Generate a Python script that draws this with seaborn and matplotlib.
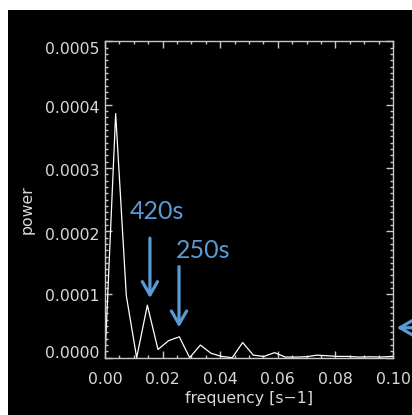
import matplotlib
matplotlib.use("Agg")
import matplotlib.pyplot as plt
import matplotlib.transforms as mtransforms
from matplotlib.patches import Rectangle
from matplotlib.ticker import MultipleLocator, FormatStrFormatter
import pandas as pd
import seaborn as sns

# ---- data ----
frequency = [0.0, 0.0037, 0.0074, 0.0110, 0.0147, 0.0184, 0.0221, 0.0258,
             0.0294, 0.0331, 0.0368, 0.0405, 0.0442, 0.0478, 0.0515, 0.0552,
             0.0589, 0.0626, 0.0662, 0.0699, 0.0736, 0.0773, 0.0810, 0.0846,
             0.0883, 0.0920, 0.0957, 0.0994, 0.1031]
power = [0.0, 0.000386, 0.000098, 0.0, 0.000083, 0.000013, 0.000027, 0.000033,
         0.0, 0.000020, 0.000007, 0.000002, 0.0, 0.000024, 0.000004, 0.000002,
         0.000008, 0.000001, 0.000001, 0.0000015, 0.000004, 0.000003, 0.000002,
         0.000002, 0.000001, 0.0000015, 0.000001, 0.000002, 0.000002]
x_ticks = [0.00, 0.02, 0.04, 0.06, 0.08, 0.10]
y_ticks = [0.0000, 0.0001, 0.0002, 0.0003, 0.0004, 0.0005]
annotations = ["420s", "250s"]
annot_freq = [0.0156, 0.0257]       # arrow x positions
annot_tip = [0.0000944, 0.000048]   # arrow tips (power)
annot_tail = [0.000189, 0.000144]   # arrow tails (power)
annot_text_x = [0.0181, 0.0341]
annot_text_y = [0.000231, 0.000170]

df = pd.DataFrame({"frequency": frequency, "power": power})

W, H = 412, 415
fig = plt.figure(figsize=(W / 100, H / 100), dpi=100, facecolor="black")
# white margins of the screenshot (left and top)
fig.patches.append(Rectangle((0, 0), 8 / W, 1, transform=fig.transFigure,
                             facecolor="white", edgecolor="none", zorder=-10))
fig.patches.append(Rectangle((0, 1 - 10 / H), 1, 10 / H, transform=fig.transFigure,
                             facecolor="white", edgecolor="none", zorder=-10))

left, right = 105 / W, 393 / W
top, bottom = 1 - 41.5 / H, 1 - 357.7 / H
ax = fig.add_axes([left, bottom, right - left, top - bottom])
ax.set_facecolor("black")

sns.lineplot(data=df, x="frequency", y="power", ax=ax, color="white",
             linewidth=0.9, clip_on=True)

ax.set_xlim(0, 0.1)
ax.set_ylim(0, 0.0005)

spine_col = "#c8c8c8"
text_col = "#d8d8d8"
for s in ax.spines.values():
    s.set_color(spine_col)
    s.set_linewidth(1.0)

ax.set_xticks(x_ticks)
ax.set_yticks(y_ticks)
ax.xaxis.set_major_formatter(FormatStrFormatter("%.2f"))
ax.yaxis.set_major_formatter(FormatStrFormatter("%.4f"))
ax.xaxis.set_minor_locator(MultipleLocator(0.005))
ax.yaxis.set_minor_locator(MultipleLocator(0.00001))
ax.tick_params(which="both", direction="in", top=True, right=True,
               color=spine_col, labelcolor=text_col, labelsize=11.3)
ax.tick_params(which="major", length=5, width=1)
ax.tick_params(which="minor", length=2.5, width=1)
ax.tick_params(axis="x", which="major", pad=10)
ax.tick_params(axis="y", which="major", pad=4)
ax.grid(False)

# small per-label vertical shifts as in the reference
offsets_px = [-5.5, 0.5, 2.5, 2.0, 2.0, 6.5]
for lab, dy in zip(ax.get_yticklabels(), offsets_px):
    lab.set_transform(lab.get_transform() +
                      mtransforms.ScaledTranslation(0, -dy / 100, fig.dpi_scale_trans))

ax.set_xlabel("frequency [s\u22121]", color=text_col, fontsize=11.3)
ax.set_ylabel("power", color=text_col, fontsize=11.3)
ax.xaxis.label.set_va("center")
ax.yaxis.label.set_va("center")
ax.xaxis.set_label_coords(0.5, -0.1275)
ax.yaxis.set_label_coords(-0.271, 0.467)

blue = "#5B9BD5"
for txt, fx, tip, tail, tx, ty in zip(annotations, annot_freq, annot_tip,
                                      annot_tail, annot_text_x, annot_text_y):
    ax.annotate("", xy=(fx, tip), xytext=(fx, tail),
                arrowprops=dict(arrowstyle="->,head_length=0.95,head_width=0.55",
                                color=blue, lw=2.3, shrinkA=0, shrinkB=0))
    ax.text(tx, ty, txt, color=blue, fontsize=18, family="Lato",
            ha="center", va="center")

# arrow at the right edge pointing left (mostly cut off)
ax.annotate("", xy=(0.1013, 0.0000474), xytext=(0.1140, 0.0000474),
            arrowprops=dict(arrowstyle="->,head_length=0.95,head_width=0.55",
                            color=blue, lw=2.3, shrinkA=0, shrinkB=0),
            annotation_clip=False)

fig.savefig("out.png", dpi=100, facecolor=fig.get_facecolor())
